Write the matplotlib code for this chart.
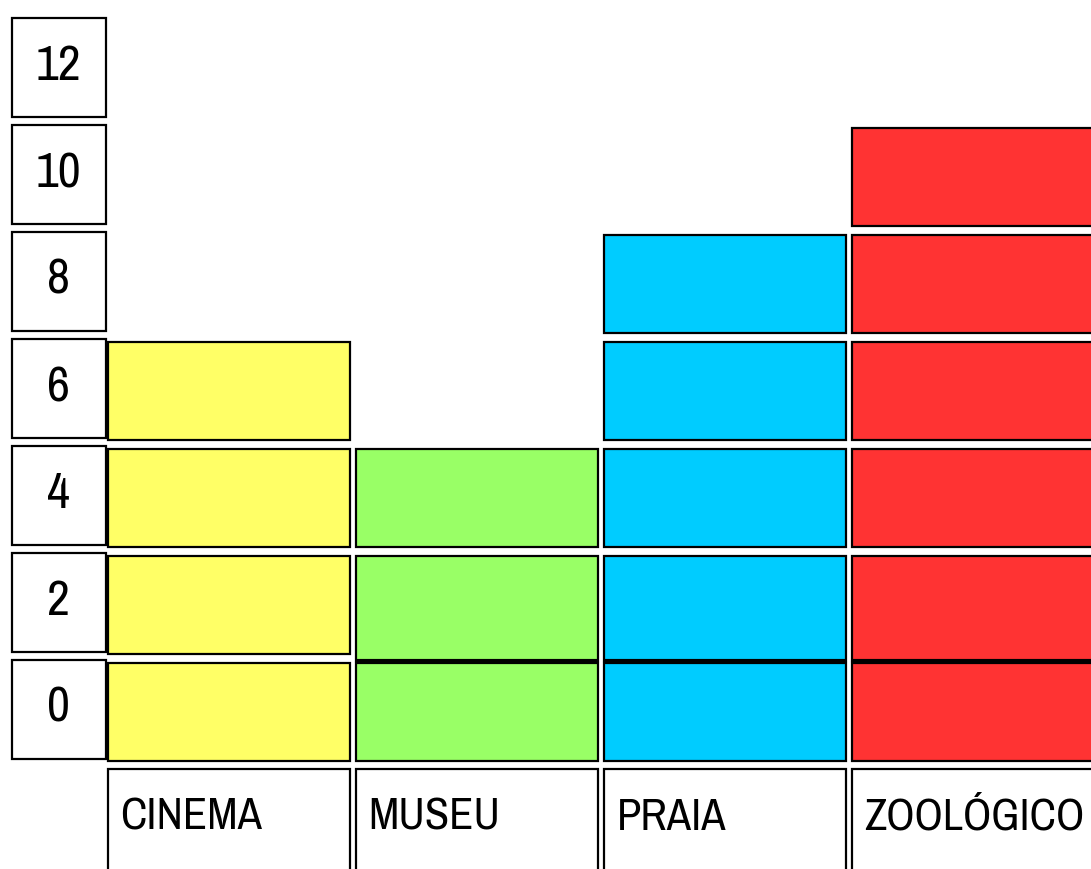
import matplotlib
matplotlib.use("Agg")
import matplotlib.pyplot as plt
from matplotlib.patches import Rectangle

# data: pictograph, one block per 2 units
categories = ["CINEMA", "MUSEU", "PRAIA", "ZOOLÓGICO"]
blocks = [4, 3, 5, 6]          # stacked blocks per category
y_labels = ["0", "2", "4", "6", "8", "10", "12"]
colors = ["#FFFF66", "#99FF66", "#00CCFF", "#FF3333"]
# in the drawing the first two blocks touch in these columns
touching = [False, True, True, True]

plt.rcParams['font.family'] = ['Archivo Narrow', 'DejaVu Sans']

fig = plt.figure(figsize=(10.91, 8.7), dpi=100)
ax = fig.add_axes([0, 0, 1, 1])
ax.set_xlim(-108 / 248, (1091 - 108) / 248)
ax.set_ylim(-(870 - 762) / 107, 762 / 107)
ax.axis('off')

# stacked blocks
for i, (n, c) in enumerate(zip(blocks, colors)):
    bottoms = list(range(n))
    heights = [0.92] * n
    if touching[i]:
        bottoms[1] = 0.935
        heights[1] = 1.92 - 0.935
    ax.bar([i] * n, heights, bottom=bottoms, width=0.975, align='edge',
           color=c, edgecolor='black', linewidth=1.6, zorder=2)
    if touching[i]:
        ax.hlines(0.93, i, i + 0.975, colors='black', linewidth=3, zorder=3)

# boxed y labels on the left
for k, lab in enumerate(y_labels):
    ax.add_patch(Rectangle((-0.387, k + 0.02), 0.379, 0.92, facecolor='white',
                           edgecolor='black', linewidth=1.6))
    ax.text(-0.2, k + 0.5, lab, ha='center', va='center', fontsize=36)

# boxed category labels at the bottom
for i, name in enumerate(categories):
    ax.add_patch(Rectangle((i, -1.4), 0.975, 1.325, facecolor='white',
                           edgecolor='black', linewidth=1.6))
    ax.text(i + 0.05, -0.52, name, ha='left', va='center', fontsize=32)

fig.savefig("out.png", dpi=100)
